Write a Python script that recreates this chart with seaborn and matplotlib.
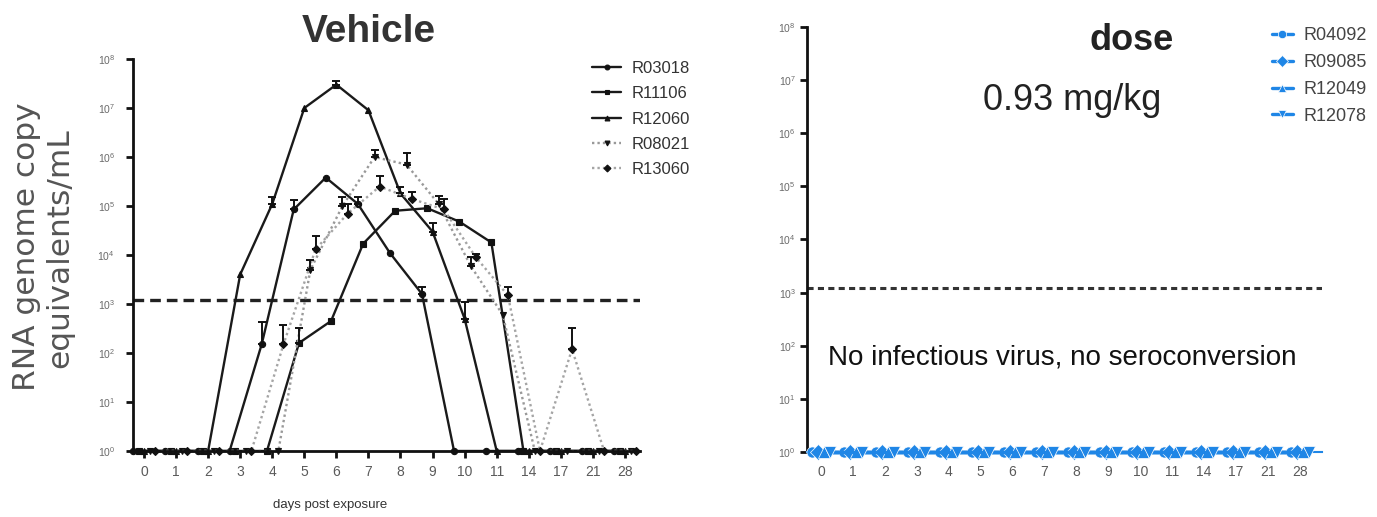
import numpy as np
import pandas as pd
import matplotlib
matplotlib.use("Agg")
import matplotlib.pyplot as plt
import seaborn as sns
from matplotlib.ticker import LogLocator, NullLocator, FixedLocator

# ---------------- data ----------------
days = ['0', '1', '2', '3', '4', '5', '6', '7', '8', '9', '10', '11', '14', '17', '21', '28']

vehicle_ids = ['R03018', 'R11106', 'R12060', 'R08021', 'R13060']
R03018 = [1, 1, 1, 1, 150, 8.5e4, 3.8e5, 1.1e5, 1.1e4, 1.6e3, 1, 1, 1, 1, 1, 1]
R11106 = [1, 1, 1, 1, 1, 160, 450, 1.7e4, 8e4, 9e4, 4.8e4, 1.8e4, 1, 1, 1, 1]
R12060 = [1, 1, 1, 4e3, 1.1e5, 1e7, 3e7, 9e6, 1.8e5, 3e4, 500, 1, 1, 1, 1, 1]
R08021 = [1, 1, 1, 1, 1, 5e3, 1e5, 1e6, 7e5, 1.1e5, 6e3, 600, 1, 1, 1, 1]
R13060 = [1, 1, 1, 1, 150, 1.3e4, 7e4, 2.5e5, 1.4e5, 8.5e4, 9e3, 1.5e3, 1, 120, 1, 1]

# upper ends of the error bars (None = no visible bar)
R03018_hi = [None, None, None, None, 420, 1.3e5, None, 1.5e5, None, 2.2e3, None, None, None, None, None, None]
R11106_hi = [None, None, None, None, None, 320, None, None, None, None, None, None, None, None, None, None]
R12060_hi = [None, None, None, None, 1.5e5, None, 3.6e7, None, 2.5e5, 4.5e4, 1.1e3, None, None, None, None, None]
R08021_hi = [None, None, None, None, None, 8e3, 1.5e5, 1.4e6, 1.2e6, 1.6e5, 9e3, None, None, None, None, None]
R13060_hi = [None, None, None, None, 380, 2.5e4, 1.1e5, 4e5, 1.9e5, 1.4e5, 1.05e4, 2.2e3, None, 320, None, None]

dose_ids = ['R04092', 'R09085', 'R12049', 'R12078']
R04092 = [1, 1, 1, 1, 1, 1, 1, 1, 1, 1, 1, 1, 1, 1, 1, 1]
R09085 = [1, 1, 1, 1, 1, 1, 1, 1, 1, 1, 1, 1, 1, 1, 1, 1]
R12049 = [1, 1, 1, 1, 1, 1, 1, 1, 1, 1, 1, 1, 1, 1, 1, 1]
R12078 = [1, 1, 1, 1, 1, 1, 1, 1, 1, 1, 1, 1, 1, 1, 1, 1]

LOD = 1200

veh_vals = {'R03018': R03018, 'R11106': R11106, 'R12060': R12060, 'R08021': R08021, 'R13060': R13060}
veh_hi = {'R03018': R03018_hi, 'R11106': R11106_hi, 'R12060': R12060_hi, 'R08021': R08021_hi, 'R13060': R13060_hi}
dose_vals = {'R04092': R04092, 'R09085': R09085, 'R12049': R12049, 'R12078': R12078}

# ---------------- style ----------------
sns.set_theme(style="ticks")
plt.rcParams['font.family'] = ['Liberation Sans', 'DejaVu Sans']

W, H = 1377, 517
fig = plt.figure(figsize=(W / 100, H / 100), dpi=100)

def fx(px):
    return px / W

def fy(py):
    return 1 - py / H

ax1 = fig.add_axes([fx(133), fy(451), fx(640 - 133), (451 - 59) / H])
ax2 = fig.add_axes([fx(807), fy(452), fx(1322 - 807), (452 - 27) / H])

# ---------------- left panel ----------------
veh_offsets = {'R03018': -0.33, 'R11106': -0.165, 'R12060': 0.0, 'R08021': 0.19, 'R13060': 0.35}
rows = []
for sid in vehicle_ids:
    for i, v in enumerate(veh_vals[sid]):
        rows.append({'animal': sid, 'xpos': i + veh_offsets[sid], 'value': v})
df1 = pd.DataFrame(rows)

ax1.set_yscale('log')
pal1 = {'R03018': '#1a1a1a', 'R11106': '#1a1a1a', 'R12060': '#1a1a1a', 'R08021': '#999999', 'R13060': '#a5a5a5'}
dash1 = {'R03018': '', 'R11106': '', 'R12060': '', 'R08021': (1.0, 1.3), 'R13060': (1.0, 1.3)}
mark1 = {'R03018': 'o', 'R11106': 's', 'R12060': '^', 'R08021': 'v', 'R13060': 'D'}
sns.lineplot(data=df1, x='xpos', y='value', hue='animal', style='animal',
             hue_order=vehicle_ids, style_order=vehicle_ids,
             palette=pal1, dashes=dash1, markers=mark1, markersize=4.5,
             linewidth=1.7, estimator=None, sort=True, ax=ax1, legend=True,
             clip_on=False, markeredgewidth=0.8)
for ln in ax1.lines:
    ln.set_markerfacecolor('#111111')
    ln.set_markeredgecolor('#111111')

for sid in vehicle_ids:
    xs, ys, up = [], [], []
    for i, (v, h) in enumerate(zip(veh_vals[sid], veh_hi[sid])):
        if h is not None:
            xs.append(i + veh_offsets[sid])
            ys.append(v)
            up.append(h - v)
    if xs:
        ax1.errorbar(xs, ys, yerr=[np.zeros(len(ys)), up], fmt='none', ecolor='#111111',
                     elinewidth=1.4, capsize=2.6, capthick=1.4, clip_on=False, zorder=5)

ax1.axhline(LOD, color='#222222', lw=2.4, ls=(0, (3.2, 1.8)), zorder=1)

ax1.set_xlim(-0.343, 15.47)
ax1.set_ylim(1, 1e8)
ax1.xaxis.set_major_locator(FixedLocator(range(len(days))))
ax1.set_xticklabels(days)
ax1.yaxis.set_major_locator(LogLocator(base=10, numticks=20))
ax1.yaxis.set_minor_locator(NullLocator())
ax1.tick_params(axis='y', which='major', length=5, width=2, color='#111', labelsize=7.5,
                labelcolor='#6a6a6a', pad=8)
ax1.tick_params(axis='x', which='major', length=5, width=2, color='#111', labelsize=10,
                labelcolor='#5a5a5a', pad=5)
for s in ['top', 'right']:
    ax1.spines[s].set_visible(False)
for s in ['left', 'bottom']:
    ax1.spines[s].set_linewidth(2)
    ax1.spines[s].set_color('#111')
ax1.set_xlabel('')
ax1.set_ylabel('')

h1, l1 = ax1.get_legend_handles_labels()
for hh in h1:
    hh.set_markerfacecolor('#111111')
    hh.set_markeredgecolor('#111111')
    hh.set_markersize(3.5)
leg1 = ax1.legend(h1, l1, loc='upper left', bbox_to_anchor=(fx(592), fy(61)),
                  bbox_transform=fig.transFigure, frameon=False, fontsize=12,
                  handlelength=1.75, handletextpad=0.6, labelspacing=0.62,
                  borderpad=0, borderaxespad=0)
for t in leg1.get_texts():
    t.set_color('#333333')

# ---------------- right panel ----------------
dose_offsets = {'R04092': -0.27, 'R09085': -0.09, 'R12049': 0.09, 'R12078': 0.27}
rows = []
for sid in dose_ids:
    for i, v in enumerate(dose_vals[sid]):
        rows.append({'animal': sid, 'xpos': i + dose_offsets[sid], 'value': v})
df2 = pd.DataFrame(rows)

ax2.set_yscale('log')
blue = '#1f86e6'
pal2 = {k: blue for k in dose_ids}
mark2 = {'R04092': 'o', 'R09085': 'D', 'R12049': '^', 'R12078': 'v'}
sns.lineplot(data=df2, x='xpos', y='value', hue='animal', style='animal',
             hue_order=dose_ids, style_order=dose_ids,
             palette=pal2, dashes=False, markers=mark2, markersize=8,
             linewidth=2.4, estimator=None, sort=True, ax=ax2, legend=True,
             clip_on=False, markeredgewidth=0.5, zorder=4)

ax2.axhline(LOD, color='#333333', lw=2.2, ls=(0, (2.0, 1.4)), zorder=1)

ax2.set_xlim(-0.44, 15.69)
ax2.set_ylim(1, 1e8)
ax2.xaxis.set_major_locator(FixedLocator(range(len(days))))
ax2.set_xticklabels(days)
ax2.yaxis.set_major_locator(LogLocator(base=10, numticks=20))
ax2.yaxis.set_minor_locator(NullLocator())
ax2.tick_params(axis='y', which='major', length=5, width=2, color='#111', labelsize=7.5,
                labelcolor='#6a6a6a', pad=3)
ax2.tick_params(axis='x', which='major', length=0, width=2, color='#111', labelsize=10,
                labelcolor='#5a5a5a', pad=9)
for s in ['top', 'right']:
    ax2.spines[s].set_visible(False)
ax2.spines['left'].set_linewidth(2)
ax2.spines['left'].set_color('#111')
ax2.spines['bottom'].set_linewidth(1.5)
ax2.spines['bottom'].set_color('#1f86e6')
ax2.set_xlabel('')
ax2.set_ylabel('')

h2, l2 = ax2.get_legend_handles_labels()
for hh in h2:
    hh.set_markersize(6)
leg2 = ax2.legend(h2, l2, loc='upper left', bbox_to_anchor=(fx(1272), fy(27)),
                  bbox_transform=fig.transFigure, frameon=False, fontsize=13,
                  handlelength=1.15, handletextpad=0.6, labelspacing=0.55,
                  borderpad=0, borderaxespad=0)
for t in leg2.get_texts():
    t.set_color('#444444')

# ---------------- texts ----------------
fig.text(fx(369), fy(42), 'Vehicle', ha='center', va='baseline', fontsize=28,
         fontweight='bold', color='#333333')
fig.text(fx(27), fy(247), 'RNA genome copy', ha='center', va='center', rotation=90,
         fontsize=22.5, color='#555555', family=['DejaVu Sans'])
fig.text(fx(60), fy(248), 'equivalents/mL', ha='center', va='center', rotation=90,
         fontsize=22.5, color='#555555', family=['DejaVu Sans'])
fig.text(fx(330), fy(505), 'days post exposure', ha='center', va='center', fontsize=9.5,
         color='#333333')

fig.text(fx(1132), fy(50), 'dose', ha='center', va='baseline', fontsize=26,
         fontweight='bold', color='#222222')
fig.text(fx(1072), fy(110), '0.93 mg/kg', ha='center', va='baseline', fontsize=26,
         color='#222222')
fig.text(fx(828), fy(365), 'No infectious virus, no seroconversion', ha='left', va='baseline',
         fontsize=20, color='#111111')

fig.savefig('out.png', dpi=100, facecolor='white')
